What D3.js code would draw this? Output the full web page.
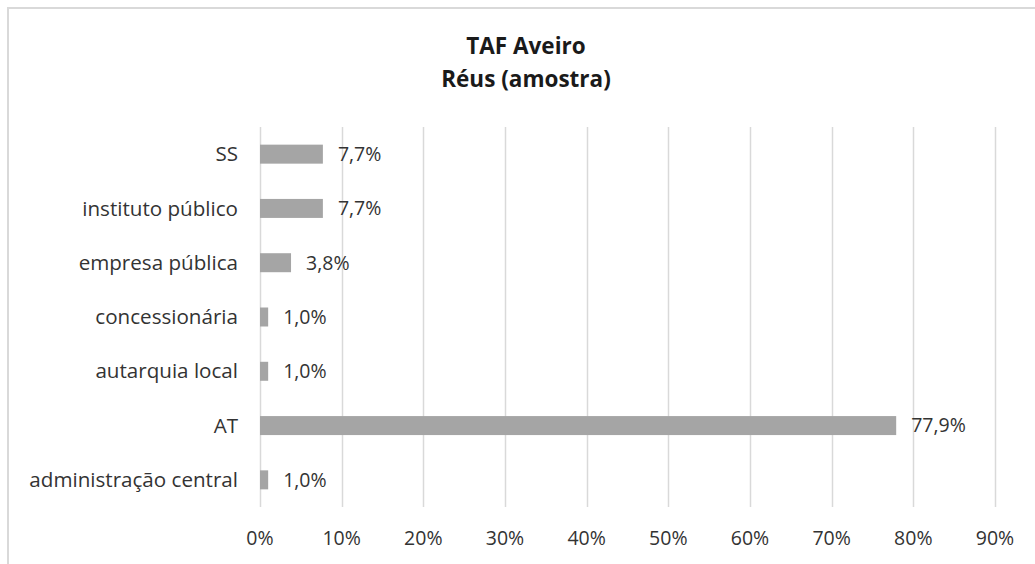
<!DOCTYPE html>
<html lang="pt">
<head>
<meta charset="UTF-8">
<title>TAF Aveiro - Réus (amostra)</title>
<script src="https://d3js.org/d3.v7.min.js"></script>
<style>
  html, body { margin: 0; padding: 0; background: #fff; }
  svg { display: block; font-family: "Open Sans", "Noto Sans", sans-serif; }
  .grid line { stroke: #d9d9d9; stroke-width: 1.5; }
  .cat { fill: #333; font-size: 20.6px; }
  .tick-lbl { fill: #333; font-size: 19.5px; }
  .val { fill: #333; font-size: 19.5px; }
  .title { fill: #1a1a1a; font-size: 22.5px; font-weight: bold; }
</style>
</head>
<body>
<svg id="chart"></svg>
<script>
// data (percent)
var categories = ["SS", "instituto público", "empresa pública", "concessionária",
                  "autarquia local", "AT", "administração central"];
var values = [7.7, 7.7, 3.8, 1.0, 1.0, 77.9, 1.0];
var ticks = [0, 10, 20, 30, 40, 50, 60, 70, 80, 90];
var titleLines = ["TAF Aveiro", "Réus (amostra)"];

var W = 1035, H = 564;
var plot = { left: 260, right: 995, top: 127, bottom: 507 };

var svg = d3.select("#chart").attr("width", W).attr("height", H);

// chart frame (right/bottom sides fall outside the picture)
svg.append("rect")
    .attr("x", 8).attr("y", 8)
    .attr("width", W + 10).attr("height", H + 10)
    .attr("fill", "#fff")
    .attr("stroke", "#d9d9d9")
    .attr("stroke-width", 2);

var x = d3.scaleLinear().domain([0, 90]).range([plot.left, plot.right]);
var y = d3.scaleBand().domain(categories).range([plot.top, plot.bottom]).paddingInner(0.65).paddingOuter(0.325);

// vertical gridlines
svg.append("g").attr("class", "grid")
  .selectAll("line")
  .data(ticks)
  .enter().append("line")
    .attr("x1", function(d) { return Math.round(x(d)) + 0.5; })
    .attr("x2", function(d) { return Math.round(x(d)) + 0.5; })
    .attr("y1", plot.top)
    .attr("y2", plot.bottom);

// bars
svg.append("g")
  .selectAll("rect")
  .data(values)
  .enter().append("rect")
    .attr("x", x(0))
    .attr("y", function(d, i) { return y(categories[i]); })
    .attr("width", function(d) { return x(d) - x(0); })
    .attr("height", y.bandwidth())
    .attr("fill", "#a5a5a5");

// value labels
var fmt = function(v) { return v.toFixed(1).replace(".", ",") + "%"; };
svg.append("g")
  .selectAll("text")
  .data(values)
  .enter().append("text")
    .attr("class", "val")
    .attr("x", function(d) { return x(d) + 15; })
    .attr("y", function(d, i) { return y(categories[i]) + y.bandwidth() / 2; })
    .attr("dy", "0.35em")
    .text(fmt);

// category labels
svg.append("g")
  .selectAll("text")
  .data(categories)
  .enter().append("text")
    .attr("class", "cat")
    .attr("x", plot.left - 22)
    .attr("y", function(d) { return y(d) + y.bandwidth() / 2; })
    .attr("dy", "0.35em")
    .attr("text-anchor", "end")
    .text(function(d) { return d; });

// x tick labels
svg.append("g")
  .selectAll("text")
  .data(ticks)
  .enter().append("text")
    .attr("class", "tick-lbl")
    .attr("x", function(d) { return x(d); })
    .attr("y", 538)
    .attr("dy", "0.35em")
    .attr("text-anchor", "middle")
    .text(function(d) { return d + "%"; });

// title
svg.append("g")
  .selectAll("text")
  .data(titleLines)
  .enter().append("text")
    .attr("class", "title")
    .attr("x", 526)
    .attr("y", function(d, i) { return 54 + i * 33; })
    .attr("text-anchor", "middle")
    .text(function(d) { return d; });
</script>
</body>
</html>
